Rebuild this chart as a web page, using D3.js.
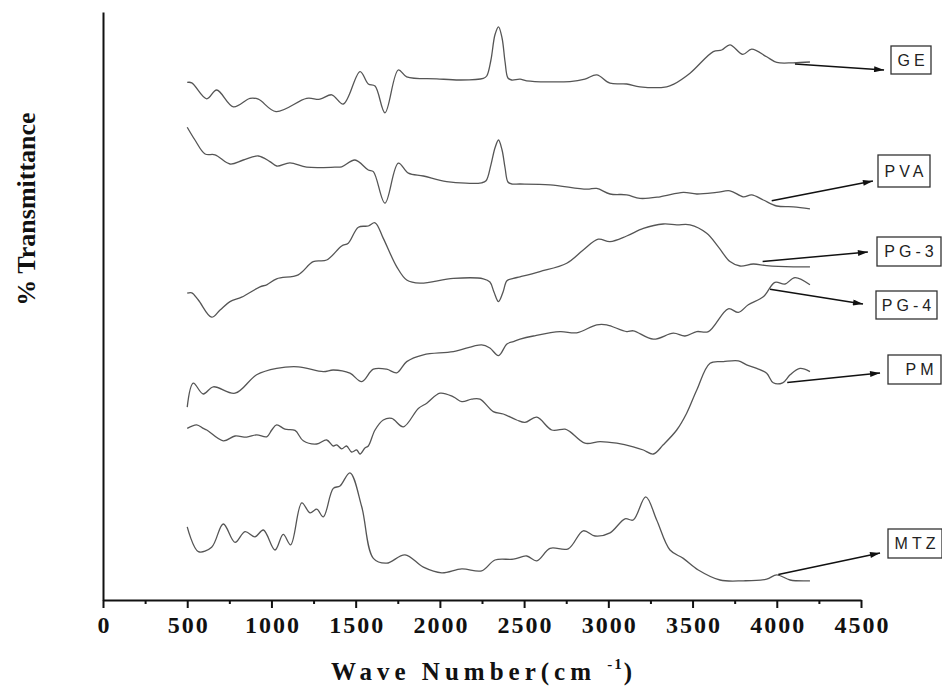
<!DOCTYPE html>
<html>
<head>
<meta charset="utf-8">
<script src="https://cdn.jsdelivr.net/npm/d3@7"></script>
<style>
  html, body { margin: 0; padding: 0; background: #fff; }
  svg { display: block; }
</style>
</head>
<body>
<svg id="chart" width="942" height="688"></svg>
<script>
// Axis ticks (wave number, cm^-1)
const xTicks = [0, 500, 1000, 1500, 2000, 2500, 3000, 3500, 4000, 4500];
const xMinorTicks = [250, 750, 1250, 1750, 2250, 2750, 3250, 3750, 4250];

// FTIR spectra: [wave number, % transmittance (stacked offsets)]
const GE = [
  [500,129.4],[527,129.3],[616,125.3],[675,127.5],[774,123.3],[873,125.4],[922,125.2],[1027,122.1],
  [1209,125.4],[1288,125.2],[1358,126.3],[1427,124.0],[1526,132.1],[1575,129.0],[1615,128.5],[1674,121.8],
  [1753,132.5],[1803,130.8],[1981,130.3],[2119,130.0],[2258,130.4],[2278,131.0],[2303,135.0],[2327,141.3],
  [2348,143.3],[2369,140.5],[2387,134.5],[2404,130.5],[2426,130.0],[2476,130.2],[2515,129.8],[2772,129.6],
  [2861,130.2],[2931,131.3],[3010,129.2],[3109,129.0],[3188,128.3],[3346,128.3],[3386,128.9],[3485,131.7],
  [3623,137.1],[3673,137.5],[3722,138.8],[3798,136.4],[3851,137.7],[3940,135.8],[4000,134.4],[4098,134.3],
  [4197,134.5]
];
const PVA = [
  [500,118.2],[546,115.0],[606,111.5],[665,111.3],[754,109.0],[833,110.0],[922,111.0],[991,109.6],
  [1031,108.5],[1110,109.3],[1209,108.2],[1377,108.2],[1417,108.3],[1496,110.0],[1575,107.5],[1605,107.1],
  [1674,99.2],[1753,109.2],[1813,106.7],[1902,106.0],[2040,104.6],[2248,104.3],[2274,104.8],[2303,108.8],
  [2327,113.0],[2348,115.0],[2369,112.5],[2387,108.0],[2404,104.5],[2426,104.0],[2476,104.0],[2654,103.8],
  [2872,102.7],[2931,102.9],[3010,101.5],[3109,101.3],[3188,100.4],[3307,100.8],[3445,101.9],[3525,101.5],
  [3643,101.9],[3722,102.3],[3801,100.8],[3851,101.3],[3920,100.0],[4000,98.5],[4098,98.3],[4197,97.8]
];
const PG3 = [
  [500,76.7],[527,76.8],[566,75.0],[645,70.7],[695,72.5],[754,74.6],[823,75.7],[932,78.3],
  [972,78.8],[1031,80.3],[1159,81.3],[1248,84.6],[1328,85.0],[1417,88.5],[1456,89.2],[1516,93.2],
  [1575,93.5],[1615,94.3],[1664,90.4],[1744,83.3],[1803,80.0],[1882,79.2],[2080,80.4],[2258,80.3],
  [2297,79.5],[2321,77.0],[2348,74.6],[2375,77.0],[2398,79.8],[2436,80.4],[2476,80.8],[2594,82.1],
  [2753,84.2],[2851,87.5],[2940,90.2],[3010,89.6],[3109,91.0],[3208,92.9],[3326,94.0],[3406,93.8],
  [3485,93.8],[3584,91.7],[3653,88.3],[3722,84.6],[3782,83.5],[3861,84.0],[3940,83.6],[4098,83.3],
  [4197,83.3]
];
const PG4 = [
  [500,48.2],[536,54.2],[595,51.5],[655,53.3],[784,51.7],[912,56.3],[1031,57.9],[1159,58.3],
  [1308,57.1],[1367,57.5],[1466,56.7],[1536,54.6],[1605,57.7],[1684,57.7],[1744,56.8],[1803,59.6],
  [1902,61.3],[2080,62.1],[2248,63.8],[2297,63.0],[2348,61.1],[2398,64.0],[2436,64.6],[2476,65.2],
  [2555,66.0],[2713,67.1],[2812,66.8],[2931,68.8],[2990,68.8],[3109,67.1],[3148,67.3],[3267,65.2],
  [3386,66.7],[3455,66.0],[3525,67.1],[3594,67.1],[3712,72.8],[3772,71.9],[3831,73.8],[3920,75.8],
  [3989,79.4],[4049,79.0],[4108,80.6],[4197,78.8]
];
const PM = [
  [500,42.9],[556,43.8],[595,42.9],[616,42.5],[714,39.8],[784,41.0],[853,40.7],[912,41.3],
  [972,40.8],[1002,42.5],[1031,43.8],[1080,42.7],[1140,42.4],[1189,39.8],[1269,39.0],[1328,40.0],
  [1367,38.5],[1387,38.8],[1417,37.8],[1446,38.5],[1476,37.0],[1506,37.5],[1526,36.5],[1555,38.0],
  [1575,38.5],[1615,42.5],[1664,45.0],[1714,45.4],[1783,43.3],[1872,47.9],[1922,49.2],[2001,51.7],
  [2080,50.8],[2130,49.6],[2189,50.2],[2238,50.2],[2317,47.1],[2376,46.5],[2456,45.0],[2505,44.4],
  [2575,45.7],[2664,42.5],[2743,42.7],[2772,42.1],[2861,39.2],[2951,39.6],[3050,39.2],[3148,38.3],
  [3208,37.5],[3267,36.5],[3326,38.8],[3406,42.5],[3465,46.7],[3525,52.5],[3604,59.2],[3683,59.6],
  [3772,59.8],[3821,58.8],[3881,57.9],[3940,56.7],[3979,54.3],[4035,54.3],[4079,56.3],[4138,57.9],
  [4197,57.1]
];
const MTZ = [
  [500,18.3],[566,12.1],[645,13.2],[714,19.0],[784,14.4],[843,17.1],[902,15.8],[952,17.5],
  [1021,12.5],[1070,16.4],[1114,13.8],[1180,24.3],[1229,21.8],[1269,22.7],[1308,20.8],[1367,27.9],
  [1407,28.5],[1466,31.8],[1536,23.3],[1605,10.4],[1684,9.2],[1793,11.3],[1902,8.2],[2011,6.8],
  [2130,7.8],[2248,7.3],[2327,10.0],[2436,10.2],[2515,11.0],[2575,9.8],[2654,12.9],[2762,12.8],
  [2851,17.3],[2921,16.0],[3010,16.8],[3099,20.3],[3148,20.0],[3222,25.8],[3287,20.0],[3366,12.5],
  [3445,10.4],[3534,7.5],[3663,5.0],[3801,4.8],[3940,5.2],[4000,6.3],[4079,5.0],[4197,4.8]
];

const seriesNames = ["GE", "PVA", "PG-3", "PG-4", "PM", "MTZ"];
const seriesData  = [GE, PVA, PG3, PG4, PM, MTZ];

// Label call-outs: arrow tail and head in data units, box in pixels
const callouts = [
  { name: "GE",   tail: [4108, 134.0], head: [4637, 132.5], box: [891, 46, 40, 28],   dx: 0 },
  { name: "PVA",  tail: [3970, 99.8],  head: [4571, 104.75], box: [878, 155, 52, 32], dx: 0 },
  { name: "PG-3", tail: [3916, 84.6],  head: [4541, 87.0],  box: [877, 237, 64, 29],  dx: 0 },
  { name: "PG-4", tail: [3960, 77.7],  head: [4512, 74.0],  box: [876, 291, 61, 28],  dx: 0 },
  { name: "PM",   tail: [4062, 54.4],  head: [4613, 56.75], box: [888, 355, 53, 29],  dx: 5 },
  { name: "MTZ",  tail: [4009, 6.4],   head: [4613, 11.75], box: [888, 529, 54, 29],  dx: 0 }
];

const svg = d3.select("#chart");
const x = d3.scaleLinear().domain([0, 4500]).range([103, 861]);
const y = d3.scaleLinear().domain([0, 147]).range([600, 12]);

const serif = "'Liberation Serif', 'Times New Roman', serif";
const sans = "'Liberation Sans', Arial, sans-serif";

// Spectra
const line = d3.line()
  .x(d => x(d[0]))
  .y(d => y(d[1]))
  .curve(d3.curveCatmullRom.alpha(0.5));

svg.append("g").selectAll("path")
  .data(seriesData)
  .join("path")
  .attr("d", line)
  .attr("fill", "none")
  .attr("stroke", "#555")
  .attr("stroke-width", 1.3)
  .attr("stroke-linejoin", "round");

// X axis: major ticks with labels, then minor ticks
const xAxis = svg.append("g")
  .attr("transform", "translate(0,600)")
  .call(d3.axisBottom(x).tickValues(xTicks).tickSize(8).tickSizeOuter(0).tickPadding(8).tickFormat(d3.format("d")));
xAxis.select(".domain").attr("stroke", "#111").attr("stroke-width", 2);
xAxis.selectAll(".tick line").attr("stroke", "#111").attr("stroke-width", 2);
xAxis.selectAll(".tick text")
  .attr("fill", "#111")
  .attr("dx", "1px")
  .style("font-family", serif)
  .style("font-weight", "bold")
  .style("font-size", "24px")
  .style("letter-spacing", "2px");

const xMinor = svg.append("g")
  .attr("transform", "translate(0,600)")
  .call(d3.axisBottom(x).tickValues(xMinorTicks).tickSize(4).tickSizeOuter(0).tickFormat(""));
xMinor.select(".domain").remove();
xMinor.selectAll(".tick line").attr("stroke", "#111").attr("stroke-width", 2);

// Y axis: plain line, no ticks
const yAxis = svg.append("g")
  .attr("transform", "translate(103,0)")
  .call(d3.axisLeft(y).tickValues([]).tickSizeOuter(0));
yAxis.select(".domain").attr("stroke", "#111").attr("stroke-width", 2);

// Axis titles
const xTitle = svg.append("text")
  .attr("x", 484)
  .attr("y", 680)
  .attr("text-anchor", "middle")
  .attr("fill", "#111")
  .style("font-family", serif)
  .style("font-weight", "bold")
  .style("font-size", "25px")
  .style("letter-spacing", "5px")
  .style("white-space", "pre");
xTitle.append("tspan").text("Wave Number(cm ");
xTitle.append("tspan").attr("dy", -11).style("font-size", "15px").style("letter-spacing", "2px").text("-1");
xTitle.append("tspan").attr("dy", 11).text(")");

svg.append("text")
  .attr("transform", "translate(35,209) rotate(-90)")
  .attr("text-anchor", "middle")
  .attr("fill", "#111")
  .style("font-family", serif)
  .style("font-weight", "bold")
  .style("font-size", "26px")
  .text("% Transmittance");

// Call-outs: arrow from each spectrum to its boxed label
svg.append("defs").append("marker")
  .attr("id", "arrowHead")
  .attr("viewBox", "0 0 10 6")
  .attr("refX", 10)
  .attr("refY", 3)
  .attr("markerWidth", 11)
  .attr("markerHeight", 6)
  .attr("markerUnits", "userSpaceOnUse")
  .attr("orient", "auto")
  .append("path")
  .attr("d", "M0,0 L10,3 L0,6 Z")
  .attr("fill", "#111");

const co = svg.append("g").selectAll("g")
  .data(callouts)
  .join("g");

co.append("line")
  .attr("x1", d => x(d.tail[0]))
  .attr("y1", d => y(d.tail[1]))
  .attr("x2", d => x(d.head[0]))
  .attr("y2", d => y(d.head[1]))
  .attr("stroke", "#111")
  .attr("stroke-width", 1.5)
  .attr("marker-end", "url(#arrowHead)");

co.append("rect")
  .attr("x", d => d.box[0])
  .attr("y", d => d.box[1])
  .attr("width", d => d.box[2])
  .attr("height", d => d.box[3])
  .attr("fill", "#fff")
  .attr("stroke", "#333")
  .attr("stroke-width", 1.3);

co.append("text")
  .attr("x", d => d.box[0] + d.box[2] / 2 + 2 + d.dx)
  .attr("y", d => d.box[1] + d.box[3] / 2)
  .attr("dy", "0.36em")
  .attr("text-anchor", "middle")
  .attr("fill", "#222")
  .style("font-family", sans)
  .style("font-size", "16px")
  .style("letter-spacing", "4px")
  .text(d => d.name);
</script>
</body>
</html>
